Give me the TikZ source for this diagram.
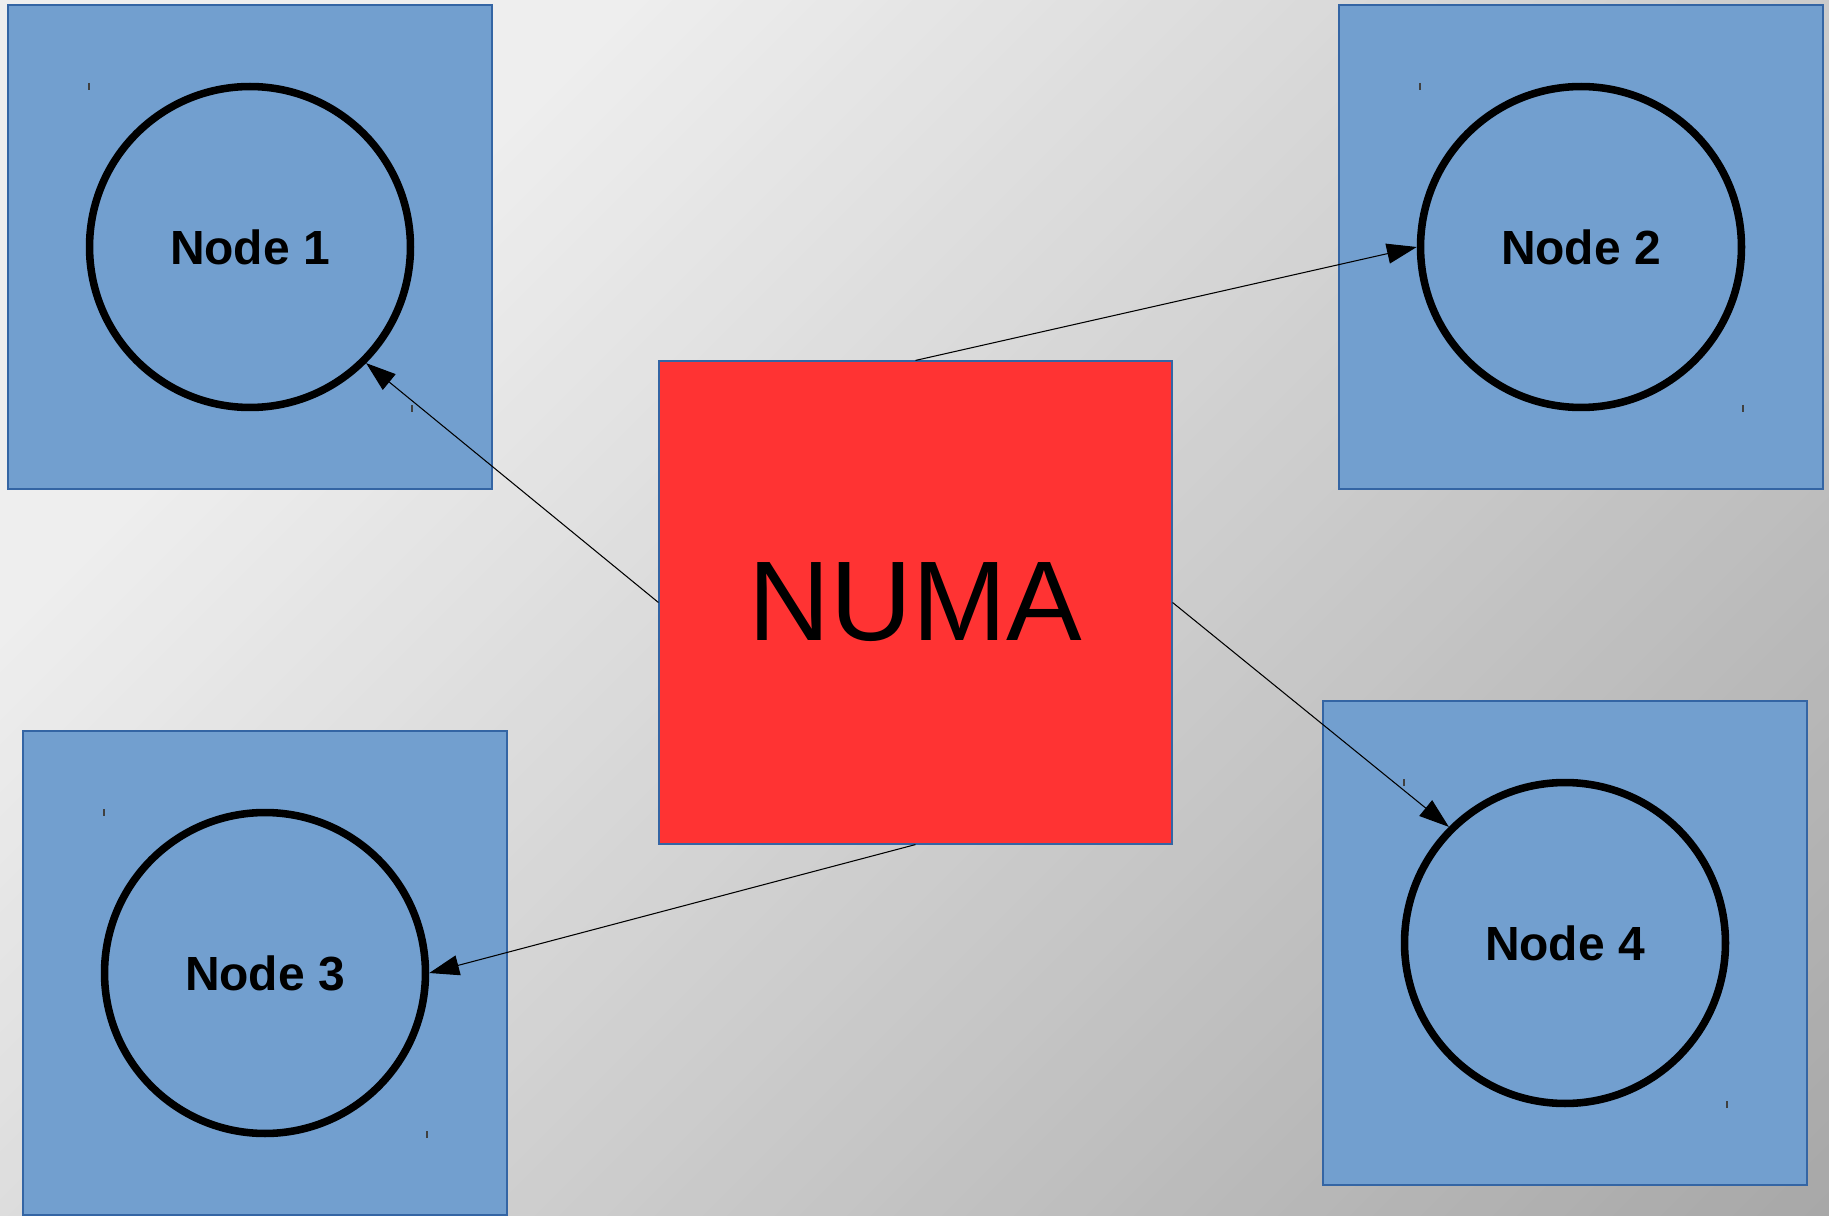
\documentclass[tikz,border=0pt]{standalone}
\usepackage{fontspec}
\setmainfont{Liberation Sans}
\usetikzlibrary{arrows.meta}

\definecolor{boxblue}{HTML}{729FCF}
\definecolor{boxedge}{HTML}{3465A4}
\definecolor{numared}{HTML}{FF3333}
\definecolor{bglight}{RGB}{238,238,238}

\tikzset{
  x=0.02cm, y=-0.02cm,
  hostbox/.style={fill=boxblue, draw=boxedge, line width=0.85pt},
  cpunode/.style={circle, draw=black, line width=4.3pt, minimum size=6.42cm,
    inner sep=0pt, font=\fontsize{27.3pt}{30pt}\selectfont\bfseries},
  numabox/.style={rectangle, fill=numared, draw=boxedge, line width=0.7pt,
    minimum width=10.26cm, minimum height=9.66cm, inner sep=0pt,
    font=\fontsize{64.5pt}{68pt}\selectfont},
  link/.style={line width=0.6pt, -{Triangle[length=17pt, width=11.5pt]}},
  tick/.style={line width=0.7pt, draw=black!75}
}

\begin{document}
\begin{tikzpicture}
\useasboundingbox (0,0) rectangle (1829,1216);

% diagonal grey gradient backdrop
\begin{scope}
  \clip (0,0) rectangle (1829,1216);
  \fill[bglight] (0,0) rectangle (1829,1216);
  \foreach \i in {0,...,99} {
    \pgfmathsetmacro\ta{650+\i*23.95}
    \pgfmathsetmacro\tb{\ta+26}
    \pgfmathtruncatemacro\v{238-70*(\i+0.5)/100}
    \definecolor{bandc}{RGB}{\v,\v,\v}
    \fill[bandc] (\ta+50,-50) -- (\tb+50,-50) -- (\tb-1300,1300) -- (\ta-1300,1300) -- cycle;
  }
\end{scope}

% blue host boxes
\path[hostbox] (8,5) rectangle (492,489);
\path[hostbox] (1339,5) rectangle (1823,489);
\path[hostbox] (23,731) rectangle (507,1215);
\path[hostbox] (1323,701) rectangle (1807,1185);

% small corner marks of the text frames
\foreach \cx/\cy in {250/247, 1581/247, 265/973, 1565/943} {
  \draw[tick] (\cx-161,\cy-164) -- (\cx-161,\cy-157);
  \draw[tick] (\cx+162,\cy+158) -- (\cx+162,\cy+165);
}

% nodes
\node[cpunode] (n1) at (250,247) {Node 1};
\node[cpunode] (n2) at (1581,247) {Node 2};
\node[cpunode] (n3) at (265,973) {Node 3};
\node[cpunode] (n4) at (1565,943) {Node 4};

\node[numabox] (numa) at (915.5,602.5) {NUMA};

% connectors
\draw[link] (numa.west) -- (n1.south east);
\draw[link] (numa.north) -- (n2.west);
\draw[link] (numa.south) -- (n3.east);
\draw[link] (numa.east) -- (n4.north west);
\end{tikzpicture}
\end{document}
